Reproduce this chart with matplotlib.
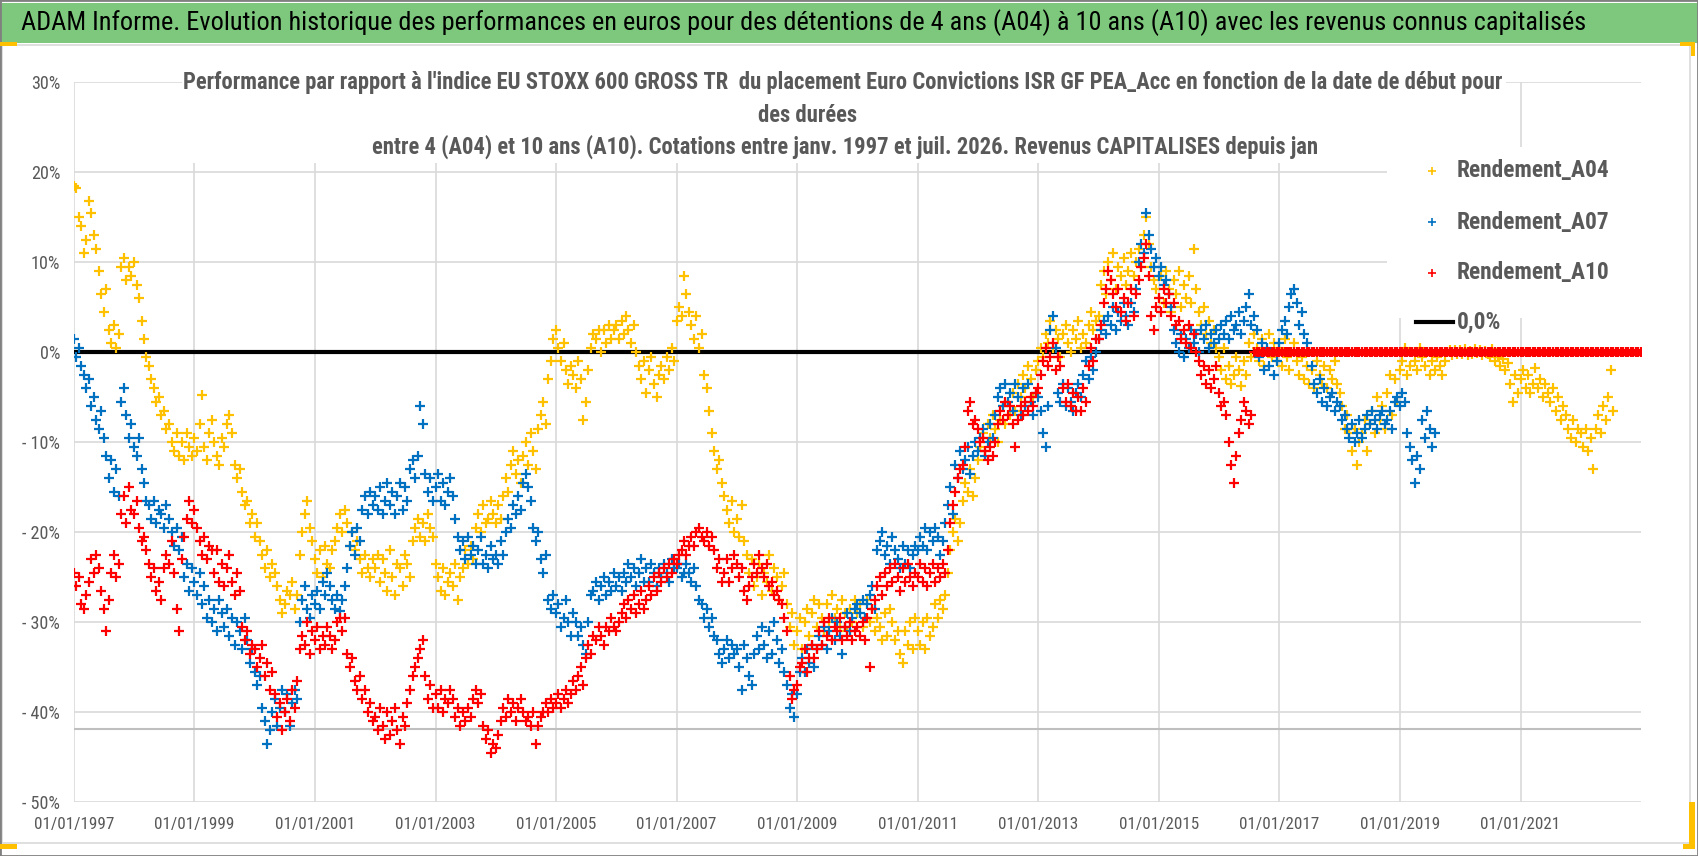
import matplotlib
matplotlib.use('Agg')
import matplotlib.pyplot as plt
import matplotlib.dates as mdates
from matplotlib import font_manager
from matplotlib.patches import Rectangle
from matplotlib.lines import Line2D
import pandas as pd

W, H = 1698, 856

# ---- data : rendement relatif (%) , points tous les demi-mois ----
A04_start = '1997-01-01'
A04_pct = [
    18.5, 18.2, 15.0, 14.0, 11.0, 12.5, 16.8, 15.5, 13.0, 11.5, 9.0, 6.5, 4.5, 7.0, 2.5, 1.0, 3.0, 0.5, 2.0, 9.5, 10.5, 8.0, 9.5, 8.5,
    10.0, 7.5, 6.0, 3.5, 1.5, -0.5, -1.5, -3.0, -4.0, -5.5, -5.0, -7.0, -6.5, -8.5, -8.0, -10.0, -11.0, -9.0, -11.5, -10.0, -12.0, -9.0, -10.5, -11.5,
    -9.5, -11.0, -8.0, -4.8, -10.5, -12.0, -9.0, -7.5, -10.0, -11.5, -12.5, -9.5, -10.5, -8.0, -7.0, -9.0, -12.5, -14.0, -13.0, -15.5, -17.0, -16.5, -19.0, -18.0,
    -20.5, -19.0, -21.0, -22.5, -24.0, -22.0, -25.0, -23.5, -24.5, -26.0, -27.5, -29.0, -28.0, -26.5, -27.0, -25.5, -28.5, -27.0, -22.5, -20.0, -18.0, -16.5, -19.5, -21.0,
    -23.0, -24.5, -22.0, -25.0, -21.5, -23.5, -24.0, -22.0, -21.0, -19.5, -18.0, -20.0, -17.5, -19.0, -21.5, -20.0, -22.0, -21.0, -23.0, -24.5, -22.5, -24.0, -25.0, -23.0,
    -24.0, -22.5, -25.5, -23.0, -24.5, -26.5, -22.0, -25.0, -27.0, -23.5, -24.0, -26.0, -22.5, -23.5, -25.0, -21.0, -19.5, -18.5, -20.5, -19.0, -21.0, -18.0, -19.5, -20.5,
    -23.5, -25.0, -26.5, -24.0, -27.0, -25.5, -24.5, -26.0, -23.5, -27.5, -25.0, -24.0, -22.0, -23.5, -21.5, -23.0, -19.5, -18.0, -20.0, -17.0, -19.0, -18.5, -16.5, -18.0,
    -19.0, -17.0, -18.5, -16.0, -14.0, -15.5, -12.5, -11.0, -13.5, -12.0, -14.5, -11.5, -10.0, -12.5, -9.0, -11.0, -13.0, -8.5, -7.0, -5.5, -8.0, -3.0, -1.0, 1.5,
    2.5, 0.5, -1.0, 1.0, -2.0, -3.5, -1.5, -2.5, -4.0, -1.0, -3.0, -7.5, -5.5, -2.0, 0.5, 2.0, 1.5, 2.5, 0.0, 2.5, 1.0, 3.0, 1.5, 2.5,
    3.0, 1.5, 3.5, 2.0, 4.0, 2.5, 1.0, 3.0, 0.0, -1.5, -3.0, -1.0, -4.5, -2.0, -0.5, -3.5, -5.0, -2.5, -1.5, -3.0, -0.5, -2.0, 0.5, -1.0,
    3.5, 5.0, 4.0, 8.5, 6.5, 4.5, 3.0, 1.5, 4.0, 0.5, 2.0, -2.5, -4.0, -6.5, -9.0, -11.0, -13.0, -12.0, -14.5, -16.0, -17.5, -19.0, -16.5, -20.0,
    -18.5, -20.5, -17.0, -21.0, -22.5, -24.5, -23.0, -26.0, -25.0, -23.5, -27.0, -24.5, -25.5, -22.5, -26.5, -24.0, -25.0, -27.5, -26.0, -24.5, -28.0, -30.5, -29.0, -32.5,
    -31.0, -29.5, -33.0, -30.0, -28.5, -31.5, -29.0, -27.5, -30.5, -28.0, -29.5, -31.0, -28.0, -30.0, -27.0, -29.5, -28.5, -30.5, -27.5, -29.0, -31.0, -28.5, -30.0, -27.5,
    -29.0, -28.0, -30.5, -29.5, -27.5, -30.0, -28.5, -31.0, -29.5, -30.5, -32.0, -29.0, -31.5, -28.5, -30.0, -32.0, -31.0, -33.5, -34.5, -31.0, -32.5, -30.0, -33.0, -29.5,
    -31.0, -32.5, -30.0, -33.0, -29.5, -31.5, -30.5, -28.0, -29.5, -27.5, -28.5, -27.0, -24.5, -22.0, -20.0, -18.5, -21.0, -19.0, -16.5, -14.5, -15.5, -13.0, -16.0, -14.0,
    -12.0, -10.5, -9.0, -11.0, -8.0, -9.5, -7.0, -8.5, -10.0, -7.5, -6.0, -8.0, -5.5, -7.0, -4.5, -6.5, -3.5, -5.0, -2.5, -4.0, -1.5, -3.0, -5.0, -2.0,
    -1.0, 0.5, -0.5, 2.0, 1.0, 3.5, 0.5, 2.5, 1.5, -0.5, 2.0, 3.0, 1.0, 0.0, 2.5, 1.5, 3.5, 0.5, 2.0, 1.0, 3.0, 4.5, 2.5, 3.5,
    4.0, 7.5, 9.0, 6.5, 10.0, 8.0, 11.0, 7.0, 9.5, 8.5, 10.5, 7.5, 9.0, 11.0, 8.5, 10.0, 11.5, 9.5, 13.0, 15.0, 12.0, 9.5, 8.0, 7.0,
    6.0, 8.5, 5.5, 9.0, 7.0, 4.5, 8.0, 6.5, 9.0, 5.0, 7.5, 6.0, 8.5, 5.5, 11.5, 7.0, 4.5, 3.0, 5.0, 2.0, 3.5, 1.0, 2.5, 0.5,
    -0.5, -2.0, 0.5, -3.0, -1.5, -3.5, -2.5, -0.5, -2.0, -3.8, -1.0, -2.5, 1.0, -0.5, 2.0, 0.5, -1.0, 1.5, -1.5, 0.0, 2.0, -0.5, 1.0, -1.0,
    0.5, -1.5, 1.5, -0.5, -2.0, 0.0, 1.0, -1.0, -2.5, -0.5, -3.0, -1.5, -3.5, -2.0, -4.0, -1.0, -2.5, -3.5, -1.5, -4.0, -2.0, -3.0, -1.0, -3.5,
    -4.5, -6.0, -8.5, -7.0, -9.0, -11.0, -8.5, -12.5, -10.0, -9.0, -7.5, -11.0, -8.0, -6.5, -9.0, -5.0, -7.5, -6.0, -8.5, -4.5, -2.5, -7.0, -3.0, -5.5,
    -2.0, -1.0, 0.5, -2.5, -1.5, 0.0, -1.0, -2.0, 0.5, -0.5, -1.5, 0.0, -2.5, -1.0, -2.0, -0.5, -1.5, -2.5, -1.0, 0.0, 0.2, -0.3, 0.2, -0.2,
    0.2, -0.2, 0.3, -0.3, 0.1, -0.2, 0.3, -0.1, 0.2, -0.3, 0.1, -0.2, -0.5, 0.3, -1.0, -0.5, -1.5, -0.8, -2.0, -1.2, -3.5, -5.5, -2.5, -4.5,
    -3.0, -2.0, -4.0, -2.5, -4.5, -3.5, -1.8, -4.0, -3.0, -5.0, -3.5, -4.5, -5.5, -4.0, -6.5, -5.0, -7.5, -6.0, -7.0, -8.5, -9.5, -7.5, -10.0, -8.5,
    -9.0, -10.5, -8.5, -11.0, -9.5, -13.0, -8.5, -7.0, -9.0, -6.0, -7.5, -5.0, -2.0, -6.5,
]

A07_start = '1997-01-01'
A07_pct = [
    1.5, -0.5, 0.5, -1.5, -2.5, -4.0, -3.0, -6.0, -5.0, -7.5, -8.5, -6.5, -9.5, -11.5, -14.0, -12.0, -15.5, -13.0, -16.0, -5.5, -4.0, -7.0, -9.5, -8.0,
    -10.5, -11.5, -9.5, -13.0, -14.5, -16.5, -17.0, -18.5, -16.5, -19.0, -17.5, -18.0, -19.5, -17.0, -18.5, -20.0, -21.5, -19.5, -22.0, -20.5, -25.0, -23.5, -26.5, -24.0,
    -25.5, -27.0, -24.5, -28.0, -26.0, -29.5, -27.5, -30.0, -28.5, -31.0, -27.5, -29.0, -30.5, -28.5, -31.5, -29.5, -32.5, -30.0, -31.0, -33.0, -29.5, -32.0, -34.5, -33.0,
    -35.5, -37.0, -36.0, -39.5, -41.0, -43.5, -42.0, -40.0, -38.5, -41.5, -39.5, -37.5, -40.0, -38.0, -41.5, -39.0, -37.5, -38.5, -30.0, -27.5, -26.0, -28.5, -29.5, -27.0,
    -28.0, -26.5, -28.5, -25.5, -27.0, -24.5, -26.0, -27.5, -28.5, -27.0, -28.8, -27.5, -26.0, -24.0, -21.5, -20.0, -22.5, -19.5, -21.0, -17.5, -16.0, -18.0, -15.5, -17.0,
    -16.0, -17.5, -15.0, -18.0, -16.5, -14.5, -17.0, -15.5, -18.0, -16.0, -14.5, -17.5, -15.0, -16.5, -13.0, -12.0, -14.0, -11.5, -6.0, -8.0, -13.5, -15.5, -14.0, -16.5,
    -15.0, -13.5, -16.5, -14.5, -17.0, -15.5, -14.0, -16.0, -18.5, -20.5, -22.0, -21.0, -23.0, -20.5, -22.5, -21.5, -23.5, -22.0, -20.5, -23.5, -22.5, -24.0, -21.5, -23.0,
    -22.5, -23.5, -21.0, -22.5, -20.0, -18.5, -19.5, -17.0, -18.0, -16.0, -17.5, -14.5, -13.5, -15.0, -16.5, -19.5, -21.0, -20.0, -23.0, -24.5, -22.5, -27.5, -28.5, -27.0,
    -29.0, -28.0, -30.5, -29.5, -27.5, -30.0, -31.5, -29.0, -30.0, -31.5, -30.5, -32.5, -33.5, -30.0, -27.0, -26.5, -25.5, -27.5, -26.0, -25.0, -27.0, -25.5, -26.5, -24.5,
    -26.0, -25.0, -26.5, -24.5, -25.5, -23.5, -25.0, -24.0, -26.0, -24.5, -23.0, -25.5, -24.0, -25.5, -23.5, -24.5, -26.0, -24.0, -25.0, -23.5, -24.5, -25.5, -23.0, -24.0,
    -24.0, -23.5, -25.0, -24.5, -23.5, -24.5, -25.5, -24.0, -26.0, -27.5, -28.0, -29.5, -28.5, -30.5, -29.5, -31.5, -32.0, -33.5, -34.5, -33.0, -32.0, -34.0, -32.5, -33.5,
    -33.0, -35.0, -37.5, -32.5, -34.0, -36.0, -37.0, -33.5, -31.5, -33.0, -30.5, -32.5, -34.0, -31.0, -33.5, -30.0, -32.0, -34.5, -33.0, -35.5, -37.0, -39.5, -38.0, -40.5,
    -38.0, -35.5, -34.0, -35.5, -33.0, -34.5, -32.5, -35.0, -33.0, -31.5, -32.5, -30.5, -33.0, -31.0, -29.5, -32.0, -30.0, -31.5, -33.5, -30.5, -29.0, -31.0, -29.5, -28.5,
    -28.0, -29.0, -27.5, -29.5, -28.0, -27.0, -26.0, -28.5, -22.0, -21.0, -20.0, -22.5, -21.5, -23.5, -20.5, -22.0, -23.0, -24.0, -21.5, -23.5, -22.0, -24.0, -22.5, -21.5,
    -22.0, -20.5, -21.5, -19.5, -22.0, -20.0, -21.0, -19.5, -20.5, -22.5, -21.0, -19.0, -17.0, -15.0, -18.0, -12.5, -14.0, -11.0, -13.0, -12.0, -10.5, -13.5, -11.5, -10.0,
    -11.0, -9.5, -8.5, -11.5, -10.0, -8.0, -9.5, -7.0, -5.0, -4.0, -6.0, -3.5, -5.5, -4.5, -6.5, -3.5, -5.0, -7.0, -4.0, -6.0, -3.5, -5.5, -7.0, -4.5,
    -5.0, -6.5, -9.0, -10.5, -6.0, 2.5, 4.0, 0.5, -4.5, -5.5, -3.5, -6.0, -4.0, -5.5, -6.5, -4.5, -3.5, -5.0, -2.5, -1.0, -3.0, -0.5, -2.0, 0.0,
    1.5, 2.5, 3.5, 2.0, 4.0, 3.0, 5.0, 2.5, 4.5, 3.5, 5.5, 4.0, 3.0, 5.5, 4.5, 7.0, 10.0, 12.0, 11.0, 15.5, 13.0, 11.5, 9.5, 10.5,
    8.5, 9.5, 7.5, 8.0, 6.5, 5.0, 2.5, 1.0, 0.0, 2.0, -0.5, 1.5, 0.5, 2.5, 1.0, 2.0, 0.0, 2.5, 1.5, 3.0, 0.5, 2.0, 1.0, 2.5,
    1.5, 3.0, 2.0, 3.5, 1.5, 4.0, 2.5, 3.0, 4.5, 2.0, 3.5, 5.0, 6.5, 3.0, 4.0, 2.5, -0.5, 1.0, -2.0, 0.5, -1.5, 0.0, -2.5, -1.0,
    1.0, 2.5, 3.5, 2.0, 5.0, 6.5, 7.0, 5.5, 3.0, 4.5, 2.0, 1.0, 0.0, -1.5, -3.5, -4.5, -3.0, -5.5, -4.0, -6.0, -5.0, -4.5, -6.5, -5.5,
    -6.0, -7.5, -7.0, -8.5, -9.5, -8.0, -10.0, -9.0, -7.5, -9.5, -8.5, -7.0, -8.0, -6.5, -7.5, -8.5, -7.0, -6.5, -8.0, -7.5, -6.5, -8.5, -5.5, -5.0,
    -6.0, -4.5, -5.5, -9.0, -10.5, -12.0, -14.5, -11.5, -13.0, -7.5, -9.5, -6.5, -8.5, -10.5, -9.0,
]

A10_start = '1997-01-01'
A10_pct = [
    -24.5, -26.0, -25.0, -28.0, -28.5, -27.0, -25.5, -23.0, -24.5, -22.5, -24.0, -26.5, -28.5, -31.0, -27.5, -24.5, -22.5, -25.0, -23.5, -18.0, -16.0, -19.0, -15.0, -17.5,
    -18.0, -16.5, -19.5, -21.0, -20.5, -22.0, -23.5, -25.0, -24.0, -26.5, -25.5, -27.5, -24.0, -22.5, -23.5, -21.0, -24.5, -28.5, -31.0, -23.0, -20.5, -18.5, -16.5, -19.0,
    -17.5, -19.5, -21.0, -22.5, -20.5, -23.0, -21.5, -22.0, -24.5, -22.0, -25.5, -23.5, -26.0, -24.0, -22.5, -25.5, -27.0, -24.5, -26.5, -30.5, -32.0, -31.0, -33.5, -32.5,
    -33.0, -35.0, -34.0, -32.5, -36.0, -34.5, -37.5, -35.5, -38.0, -40.5, -39.0, -42.0, -40.0, -38.5, -41.0, -37.5, -39.5, -36.5, -33.0, -31.5, -32.5, -30.0, -33.5, -31.0,
    -32.0, -30.5, -33.0, -31.5, -32.5, -30.5, -31.5, -33.0, -32.0, -30.0, -29.5, -31.0, -29.5, -33.5, -35.0, -34.0, -36.5, -37.5, -36.0, -38.5, -37.5, -40.0, -39.0, -41.0,
    -40.5, -42.0, -39.5, -41.5, -43.0, -40.0, -42.5, -41.0, -39.5, -42.0, -43.5, -40.5, -41.5, -39.0, -37.5, -36.0, -35.0, -34.0, -33.0, -32.0, -36.0, -38.5, -37.0, -39.5,
    -38.0, -39.5, -37.5, -40.0, -38.5, -39.0, -37.5, -38.5, -40.5, -39.5, -41.5, -40.0, -41.0, -39.5, -40.5, -38.5, -37.5, -39.0, -38.0, -41.5, -43.0, -42.0, -44.5, -43.5,
    -44.0, -42.5, -41.0, -39.5, -40.5, -38.5, -40.0, -39.0, -41.0, -39.5, -38.5, -40.0, -41.0, -40.5, -41.5, -40.0, -43.5, -41.5, -40.5, -40.0, -39.0, -40.0, -38.5, -39.5,
    -39.0, -38.0, -39.5, -38.5, -37.5, -39.0, -38.0, -36.5, -37.5, -36.0, -35.0, -37.0, -34.0, -32.5, -33.5, -31.5, -32.0, -30.5, -31.5, -32.5, -30.5, -31.0, -29.5, -30.5,
    -31.0, -30.0, -29.0, -28.0, -29.5, -27.5, -28.5, -27.0, -29.0, -28.0, -26.5, -28.5, -27.5, -26.0, -27.0, -25.0, -26.5, -24.5, -25.5, -24.0, -25.0, -23.5, -24.5, -23.0,
    -23.5, -22.5, -22.0, -21.0, -22.5, -21.5, -20.5, -21.5, -20.0, -19.5, -20.5, -21.0, -20.0, -21.5, -20.5, -22.0, -24.0, -23.0, -25.5, -24.5, -23.0, -25.5, -24.0, -22.5,
    -23.5, -25.0, -24.0, -26.5, -27.5, -26.0, -25.0, -23.5, -24.5, -22.5, -24.0, -25.0, -23.5, -26.0, -25.5, -27.0, -26.5, -27.5, -28.0, -29.5, -31.0, -36.0, -38.5, -37.5,
    -37.0, -35.0, -34.5, -33.0, -35.5, -34.0, -32.5, -34.0, -33.0, -31.0, -32.5, -30.0, -31.5, -29.5, -32.0, -30.5, -31.0, -29.5, -32.0, -30.5, -31.5, -30.0, -32.0, -31.0,
    -30.5, -31.5, -30.0, -32.0, -29.5, -35.0, -28.5, -27.5, -26.0, -25.0, -27.0, -24.5, -26.0, -24.0, -25.5, -23.5, -25.0, -26.5, -24.0, -25.5, -23.5, -25.0, -26.0, -24.5,
    -25.0, -23.5, -25.5, -24.0, -26.0, -24.5, -23.5, -25.5, -24.0, -25.0, -23.5, -24.5, -22.0, -19.0, -17.0, -15.5, -14.0, -13.0, -12.5, -10.5, -6.5, -5.5, -8.0, -7.5,
    -8.5, -10.0, -9.5, -11.0, -12.0, -10.5, -11.5, -10.0, -8.0, -6.5, -7.5, -5.5, -7.0, -6.0, -8.0, -10.5, -7.5, -6.0, -7.0, -5.5, -6.5, -5.0, -6.0, -4.5,
    -4.0, -2.5, -1.0, 0.5, -1.5, -0.5, 1.0, -2.0, -0.5, -1.5, -4.0, -5.5, -3.5, -6.0, -4.5, -6.5, -5.0, -6.5, -4.0, -5.5, -1.5, 0.5, -1.0, 1.5,
    1.5, 3.0, 5.5, 7.0, 9.0, 8.0, 6.5, 5.0, 7.0, 4.5, 6.0, 3.5, 5.5, 7.0, 4.0, 6.5, 8.0, 9.5, 10.5, 12.0, 8.5, 4.0, 2.5, 5.0,
    6.0, 4.5, 7.0, 5.5, 6.5, 4.0, 5.5, 3.0, 3.5, 1.5, 2.5, 1.0, 3.0, 0.5, 2.0, 0.0, -1.0, -2.5, -1.5, -3.5, -2.0, -4.0, -3.0, -1.5,
    -4.5, -6.0, -5.5, -7.0, -10.0, -12.5, -14.5, -11.5, -9.0, -7.5, -5.5, -6.5, -8.0, -7.0,
]
# après la fin des cotations A10, Excel trace des zéros jusqu'au bout de l'axe
A10_tail_start = '2016-08-01'
A10_tail_pct = [0.0] * 155

zero_dates = ['1997-01-01', '2023-01-01']
zero_pct = [0.0, 0.0]
low_line_pct = -41.9

x_ticks = ['01/01/%d' % y for y in range(1997, 2022, 2)]
y_ticks = [-50, -40, -30, -20, -10, 0, 10, 20, 30]

title_main = ("ADAM Informe. Evolution historique des performances en euros pour des détentions "
              "de 4 ans (A04) à 10 ans (A10) avec les revenus connus capitalisés")
title_l1 = ("Performance par rapport à l'indice EU STOXX 600 GROSS TR  du placement Euro Convictions "
            "ISR GF PEA_Acc en fonction de la date de début pour")
title_l2 = "des durées"
title_l3 = "entre 4 (A04) et 10 ans (A10). Cotations entre janv. 1997 et juil. 2026. Revenus CAPITALISES depuis jan"
legend_labels = ['Rendement_A04', 'Rendement_A07', 'Rendement_A10', '0,0%']

GOLD, BLUE, RED = '#FFC000', '#0070C0', '#FF0000'
GREY_TXT = '#595959'
GRID = '#D9D9D9'


def pick_font():
    names = {f.name for f in font_manager.fontManager.ttflist}
    for cand in ['Liberation Sans Narrow', 'Roboto Condensed', 'Lato', 'Roboto', 'Liberation Sans']:
        if cand in names:
            return cand
    return 'DejaVu Sans'


FONT = pick_font()
plt.rcParams['font.family'] = [FONT, 'DejaVu Sans']


def fx(px):
    return px / W


def fy(py):
    return 1 - py / H


fig = plt.figure(figsize=(W / 100, H / 100), dpi=100)
fig.patch.set_facecolor('white')
renderer = fig.canvas.get_renderer()


def fit_size(text, width_px, **kw):
    t = fig.text(0, 0, text, fontsize=20, **kw)
    w = t.get_window_extent(renderer).width
    t.remove()
    return 20 * width_px / w


# ---- plot area ----
ax = fig.add_axes([fx(74), fy(802), fx(1641) - fx(74), fy(82) - fy(802)])
ax.set_facecolor('white')
for s in ax.spines.values():
    s.set_visible(False)

d04 = pd.date_range(A04_start, periods=len(A04_pct), freq='SMS')
d07 = pd.date_range(A07_start, periods=len(A07_pct), freq='SMS')
d10 = pd.date_range(A10_start, periods=len(A10_pct), freq='SMS')
d10t = pd.date_range(A10_tail_start, periods=len(A10_tail_pct), freq='SMS')

ax.axhline(low_line_pct, color='#BFBFBF', lw=1.5, zorder=1)
ax.plot(pd.to_datetime(zero_dates), zero_pct, color='black', lw=3, zorder=2,
        solid_capstyle='butt')

msize, mlw = 44, 1.6
ax.scatter(d04, A04_pct, marker='+', s=msize, linewidths=mlw, color=GOLD, zorder=3)
ax.scatter(d07, A07_pct, marker='+', s=msize, linewidths=mlw, color=BLUE, zorder=4)
ax.scatter(d10, A10_pct, marker='+', s=msize, linewidths=mlw, color=RED, zorder=5)
ax.plot(d10t, A10_tail_pct, color=RED, lw=5, zorder=5, solid_capstyle='butt')
ax.scatter(d10t, A10_tail_pct, marker='+', s=msize, linewidths=mlw, color=RED, zorder=5)

ax.set_xlim(pd.Timestamp('1997-01-01'), pd.Timestamp('2023-01-01'))
ax.set_ylim(-50, 30)
ax.set_xticks(pd.to_datetime(x_ticks, format='%d/%m/%Y'))
ax.xaxis.set_major_formatter(mdates.DateFormatter('%d/%m/%Y'))
ax.set_yticks(y_ticks)
ax.set_yticklabels(['- %d%%' % -v if v < 0 else '%d%%' % v for v in y_ticks])
ax.grid(True, color=GRID, lw=1.2)
ax.set_axisbelow(True)

xs = fit_size('01/01/1997', 80)
ys = fit_size('- 40%', 38)
ax.tick_params(axis='x', length=0, pad=11, labelsize=xs, labelcolor=GREY_TXT)
ax.tick_params(axis='y', length=0, pad=10, labelsize=ys, labelcolor=GREY_TXT)

# ---- decor : bandeau, cadre, poignées ----
fig.patches.append(Rectangle((0, fy(43)), 1, fy(3) - fy(43), transform=fig.transFigure,
                             facecolor='#7DC87D', edgecolor='none', zorder=1))
fig.patches.append(Rectangle((fx(2), fy(843)), fx(1690) - fx(2), fy(45) - fy(843),
                             transform=fig.transFigure, facecolor='none',
                             edgecolor=GRID, lw=1.2, zorder=1))
fig.patches.append(Rectangle((0, 0), 1, 1, transform=fig.transFigure, facecolor='none',
                             edgecolor='#808080', lw=2, zorder=6))
for (x0, y0, x1, y1) in [(0, 42, 17, 46), (1680, 42, 1695, 46), (1691, 42, 1695, 56),
                         (1689, 802, 1695, 849), (1683, 844, 1695, 849), (0, 844, 17, 849)]:
    fig.patches.append(Rectangle((fx(x0), fy(y1)), fx(x1) - fx(x0), fy(y0) - fy(y1),
                                 transform=fig.transFigure, facecolor=GOLD,
                                 edgecolor='none', zorder=6))

# boîtes blanches du titre et de la légende (cachent la grille)
fig.patches.append(Rectangle((fx(182), fy(163)), fx(1506) - fx(182), fy(64) - fy(163),
                             transform=fig.transFigure, facecolor='white',
                             edgecolor='none', zorder=1))
fig.patches.append(Rectangle((fx(1387), fy(318)), fx(1641) - fx(1387), fy(147) - fy(318),
                             transform=fig.transFigure, facecolor='white',
                             edgecolor='none', zorder=1))

# ---- textes ----
ms = fit_size(title_main, 1560)
fig.text(fx(804), fy(23), title_main, ha='center', va='center', fontsize=ms,
         color='black', zorder=3)

ts = fit_size(title_l1, 1313, fontweight='bold')
for txt, cx, cy in [(title_l1, 843, 82), (title_l2, 807, 115), (title_l3, 845, 147)]:
    fig.text(fx(cx), fy(cy), txt, ha='center', va='center', fontsize=ts,
             fontweight='bold', color=GREY_TXT, zorder=3)

ls = fit_size(legend_labels[0], 152, fontweight='bold')
rows = [171, 222, 273, 322]
for lab, col, ry in zip(legend_labels[:3], [GOLD, BLUE, RED], rows[:3]):
    fig.add_artist(Line2D([fx(1432)], [fy(ry)], marker='+', markersize=6,
                          markeredgewidth=1.2, color=col, transform=fig.transFigure,
                          zorder=3))
    fig.text(fx(1457), fy(ry), lab, ha='left', va='center', fontsize=ls,
             fontweight='bold', color=GREY_TXT, zorder=3)
fig.add_artist(Line2D([fx(1416), fx(1453)], [fy(rows[3]), fy(rows[3])], color='black',
                      lw=3, transform=fig.transFigure, zorder=3))
fig.text(fx(1457), fy(rows[3]), legend_labels[3], ha='left', va='center', fontsize=ls,
         fontweight='bold', color=GREY_TXT, zorder=3)

fig.savefig('out.png', dpi=100, facecolor='white')
